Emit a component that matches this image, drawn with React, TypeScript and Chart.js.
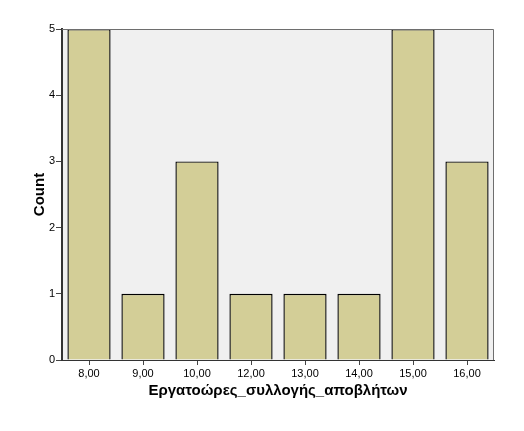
import React, { useEffect, useRef } from "react";
import { Chart, registerables } from "chart.js";

Chart.register(...registerables);

const categories = ["8,00", "9,00", "10,00", "12,00", "13,00", "14,00", "15,00", "16,00"];
const counts = [5, 1, 3, 1, 1, 1, 5, 3];
const yTicks = [0, 1, 2, 3, 4, 5];
const xTitle = "Εργατοώρες_συλλογής_αποβλήτων";
const yTitle = "Count";

const W = 524;
const H = 431;

const frame = {
  id: "frame",
  beforeDraw(chart: any) {
    const { ctx, chartArea: a } = chart;
    ctx.save();
    ctx.fillStyle = "#f0f0f0";
    ctx.fillRect(a.left, a.top, a.right - a.left, a.bottom - a.top);
    ctx.restore();
  },
  afterDatasetsDraw(chart: any) {
    const { ctx, chartArea: a } = chart;
    ctx.save();
    ctx.strokeStyle = "#6e6e6e";
    ctx.lineWidth = 1;
    ctx.beginPath();
    ctx.moveTo(a.left, a.top + 0.5);
    ctx.lineTo(a.right - 0.5, a.top + 0.5);
    ctx.lineTo(a.right - 0.5, a.bottom);
    ctx.stroke();
    ctx.restore();
  },
};

export default function App() {
  const ref = useRef<HTMLCanvasElement | null>(null);
  useEffect(() => {
    if (!ref.current) return;
    const font = "'Liberation Sans', Arial, sans-serif";
    const chart = new Chart(ref.current, {
      type: "bar",
      data: {
        labels: categories,
        datasets: [
          {
            data: counts,
            backgroundColor: "#d3ce97",
            borderColor: "#000",
            borderWidth: 1.4,
            categoryPercentage: 1,
            barPercentage: 0.8,
          },
        ],
      },
      options: {
        animation: false,
        responsive: false,
        devicePixelRatio: 1,
        layout: { padding: { top: 29, right: 30, left: 0, bottom: 0 } },
        plugins: { legend: { display: false }, tooltip: { enabled: false } },
        scales: {
          x: {
            afterFit: (s: any) => {
              s.height = 71;
            },
            grid: {
              offset: false,
              drawOnChartArea: false,
              drawTicks: true,
              tickLength: 5,
              color: "#444",
            },
            border: { display: true, color: "#333", width: 1 },
            ticks: {
              color: "#000",
              padding: 2,
              font: { family: font, size: 11 },
              maxRotation: 0,
            },
            title: {
              display: true,
              text: xTitle,
              color: "#000",
              font: { family: font, size: 15, weight: "bold" },
              padding: { top: 0, bottom: 31 },
            },
          },
          y: {
            min: 0,
            max: 5,
            afterFit: (s: any) => {
              s.width = 62;
            },
            afterBuildTicks: (s: any) => {
              s.ticks = yTicks.map((v) => ({ value: v }));
            },
            grid: {
              drawOnChartArea: false,
              drawTicks: true,
              tickLength: 6,
              color: "#444",
            },
            border: { display: true, color: "#333", width: 2 },
            ticks: {
              color: "#000",
              padding: 1,
              font: { family: font, size: 11 },
            },
            title: {
              display: true,
              text: yTitle,
              color: "#000",
              font: { family: font, size: 15, weight: "bold" },
              padding: { top: 31, bottom: 0 },
            },
          },
        },
      },
      plugins: [frame],
    });
    return () => chart.destroy();
  }, []);
  return (
    <div style={{ position: "absolute", left: 0, top: 0, width: W, height: H, background: "#fff" }}>
      <canvas ref={ref} width={W} height={H} style={{ display: "block", width: W, height: H }} />
    </div>
  );
}
